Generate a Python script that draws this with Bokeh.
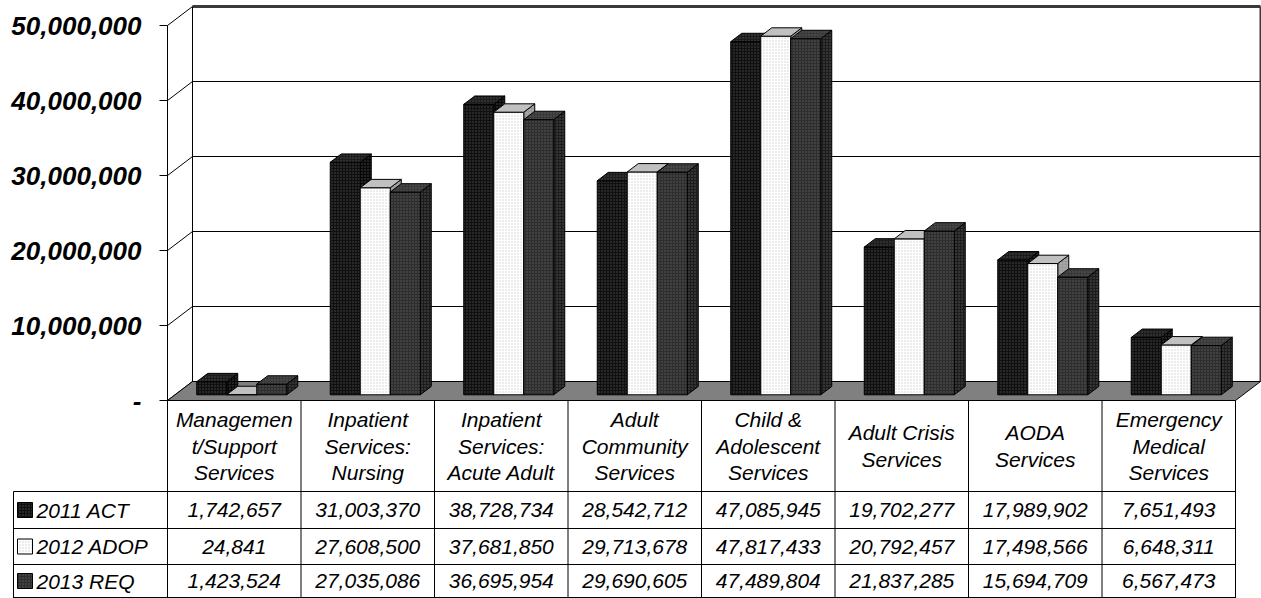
from bokeh.plotting import figure
from bokeh.models import Range1d, ColumnDataSource
from bokeh.core.properties import value
from bokeh.embed import file_html
from bokeh.resources import INLINE

# ---------------- data ----------------
categories = ["Managemen\nt/Support\nServices", "Inpatient\nServices:\nNursing",
              "Inpatient\nServices:\nAcute Adult", "Adult\nCommunity\nServices",
              "Child &\nAdolescent\nServices", "Adult Crisis\nServices",
              "AODA\nServices", "Emergency\nMedical\nServices"]
series_names = ["2011 ACT", "2012 ADOP", "2013 REQ"]
act_2011 = [1742657, 31003370, 38728734, 28542712, 47085945, 19702277, 17989902, 7651493]
adop_2012 = [24841, 27608500, 37681850, 29713678, 47817433, 20792457, 17498566, 6648311]
req_2013 = [1423524, 27035086, 36695954, 29690605, 47489804, 21837285, 15694709, 6567473]
y_ticks = [0, 10000000, 20000000, 30000000, 40000000, 50000000]

series = [act_2011, adop_2012, req_2013]

# ---------------- styles ----------------
front_fill = ["#101010", "#ffffff", "#2e2e2e"]
front_hatch = ["#5a5a5a", "#c4c4c4", "#6a6a6a"]
top_fill = ["#1c1c1c", "#c0c0c0", "#383838"]
side_fill = ["#080808", "#9a9a9a", "#1c1c1c"]
FONT = value("Liberation Sans")
TABLE_FS = "21px"

# layout geometry (reference pixels -> data units)
X0_PX, UNIT_PX, Y0_PX, PX_PER_DOLLAR = 167.0, 133.5, 400.0, 7.5e-6


def X(rx):
    return (rx - X0_PX) / UNIT_PX


def Y(ry):
    return (Y0_PX - ry) / PX_PER_DOLLAR


DX = X(192) - X(167)       # wall depth in x units
DY = Y(381) - Y(400)       # wall depth in value units
BAR_W = 30 / UNIT_PX
GAP = (1 - 3 * BAR_W) / 2
D0, D1 = 0.30, 0.74        # bar depth span (fraction of wall depth)
NCAT = len(categories)

W, H = 1261, 598
p = figure(width=W, height=H, output_backend="svg", toolbar_location=None,
           x_range=Range1d(X(0), X(W)), y_range=Range1d(Y(H), Y(0)),
           min_border=0, outline_line_color=None, x_axis_location=None,
           y_axis_location=None)
p.grid.visible = False
p.background_fill_color = "white"

# ---------------- walls ----------------
right_x = NCAT + DX
p.segment(x0=[0] * len(y_ticks), y0=y_ticks, x1=[DX] * len(y_ticks),
          y1=[t + DY for t in y_ticks], line_color="black", line_width=1)
p.segment(x0=[DX] * (len(y_ticks) - 1), y0=[t + DY for t in y_ticks[:-1]],
          x1=[right_x] * (len(y_ticks) - 1), y1=[t + DY for t in y_ticks[:-1]],
          line_color="black", line_width=1)
top = y_ticks[-1] + DY
p.line([DX, right_x], [top, top], line_color="#3a3a3a", line_width=3)
p.line([DX, DX], [DY, top], line_color="black", line_width=1)
p.line([right_x, right_x], [DY, top], line_color="#3a3a3a", line_width=2)

# floor
p.patch([0, NCAT, NCAT + DX, DX], [0, 0, DY, DY], fill_color="#808080",
        line_color="black", line_width=1)

# ---------------- 3D bars ----------------
xs, ys, fills, hatches = [], [], [], []
for i in range(NCAT):
    for s, vals in enumerate(series):
        v = vals[i]
        x0 = i + GAP + s * BAR_W
        x1 = x0 + BAR_W
        ax, ay = D0 * DX, D0 * DY
        bx, by = D1 * DX, D1 * DY
        # side face
        xs.append([x1 + ax, x1 + bx, x1 + bx, x1 + ax])
        ys.append([ay, by, v + by, v + ay])
        fills.append(side_fill[s]); hatches.append(front_hatch[s])
        # front face
        xs.append([x0 + ax, x1 + ax, x1 + ax, x0 + ax])
        ys.append([ay, ay, v + ay, v + ay])
        fills.append(front_fill[s]); hatches.append(front_hatch[s])
        # top face
        xs.append([x0 + ax, x1 + ax, x1 + bx, x0 + bx])
        ys.append([v + ay, v + ay, v + by, v + by])
        fills.append(top_fill[s]); hatches.append(front_hatch[s])

bars = ColumnDataSource(dict(xs=xs, ys=ys, fill=fills, hatch=hatches))
p.patches("xs", "ys", source=bars, fill_color="fill", line_color="black",
          line_width=1, hatch_pattern="dot", hatch_color="hatch",
          hatch_scale=3, hatch_weight=1, hatch_alpha=0.8)

# ---------------- value axis (front) ----------------
p.line([0, 0], [0, y_ticks[-1]], line_color="black", line_width=1)
p.segment(x0=[X(159)] * len(y_ticks), y0=y_ticks, x1=[0] * len(y_ticks), y1=y_ticks,
          line_color="black", line_width=1)
tick_labels = ["-" if t == 0 else f"{t:,}" for t in y_ticks]
p.text(x=[X(141)] * len(y_ticks), y=y_ticks, text=tick_labels, text_font=FONT,
       text_font_size="26px", text_font_style="bold italic", text_align="right",
       text_baseline="middle", text_color="black")

# ---------------- data table ----------------
TABLE_TOP, HEAD_BOT, ROW_B = 400, 491, [528, 564, 597]
LEFT = 13
col_x = [i for i in range(NCAT + 1)]
p.segment(x0=col_x, y0=[Y(TABLE_TOP)] * len(col_x), x1=col_x, y1=[Y(H)] * len(col_x),
          line_color="black", line_width=1)
p.segment(x0=[X(LEFT)], y0=[Y(HEAD_BOT)], x1=[X(LEFT)], y1=[Y(H)],
          line_color="black", line_width=1)
hl = [HEAD_BOT] + ROW_B
p.segment(x0=[X(LEFT)] * len(hl), y0=[Y(r) for r in hl], x1=[NCAT] * len(hl),
          y1=[Y(r) for r in hl], line_color="black", line_width=1)

# header category labels
LINE_H = 26.5
hx, hy, ht = [], [], []
for i, c in enumerate(categories):
    lines = c.split("\n")
    mid = (TABLE_TOP + HEAD_BOT) / 2
    start = mid - LINE_H * (len(lines) - 1) / 2
    for k, ln in enumerate(lines):
        hx.append(i + 0.5)
        hy.append(Y(start + k * LINE_H))
        ht.append(ln)
p.text(x=hx, y=hy, text=ht, text_font=FONT, text_font_size=TABLE_FS,
       text_font_style="italic", text_align="center", text_baseline="middle",
       text_color="black")

# row values and legend keys
row_top = [HEAD_BOT] + ROW_B[:-1]
row_mid = [(a + b) / 2 for a, b in zip(row_top, ROW_B)]
vx, vy, vt = [], [], []
for s, vals in enumerate(series):
    for i, v in enumerate(vals):
        vx.append(i + 0.5)
        vy.append(Y(row_mid[s]))
        vt.append(f"{v:,}")
p.text(x=vx, y=vy, text=vt, text_font=FONT, text_font_size=TABLE_FS,
       text_font_style="italic", text_align="center", text_baseline="middle",
       text_color="black")

key_src = ColumnDataSource(dict(
    left=[X(17)] * 3, right=[X(32)] * 3,
    bottom=[Y(m + 7.5) for m in row_mid], top=[Y(m - 7.5) for m in row_mid],
    fill=front_fill, hatch=front_hatch))
p.quad(left="left", right="right", bottom="bottom", top="top", source=key_src,
       fill_color="fill", line_color="black", line_width=1, hatch_pattern="dot",
       hatch_color="hatch", hatch_scale=3, hatch_weight=1, hatch_alpha=0.8)
p.text(x=[X(36)] * 3, y=[Y(m) for m in row_mid], text=series_names, text_font=FONT,
       text_font_size=TABLE_FS, text_font_style="italic", text_align="left",
       text_baseline="middle", text_color="black")

open("out.html", "w").write(file_html(p, INLINE))
